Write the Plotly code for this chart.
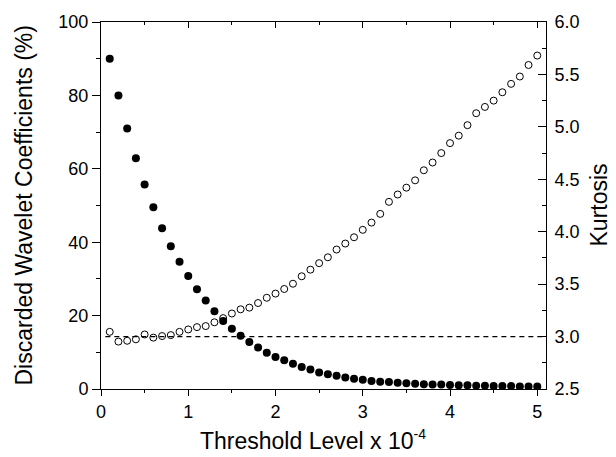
import plotly.graph_objects as go

threshold = [0.1, 0.2, 0.3, 0.4, 0.5, 0.6, 0.7, 0.8, 0.9, 1.0,
             1.1, 1.2, 1.3, 1.4, 1.5, 1.6, 1.7, 1.8, 1.9, 2.0,
             2.1, 2.2, 2.3, 2.4, 2.5, 2.6, 2.7, 2.8, 2.9, 3.0,
             3.1, 3.2, 3.3, 3.4, 3.5, 3.6, 3.7, 3.8, 3.9, 4.0,
             4.1, 4.2, 4.3, 4.4, 4.5, 4.6, 4.7, 4.8, 4.9, 5.0]

discarded = [90.0, 80.0, 71.0, 62.9, 55.7, 49.5, 43.8, 38.9, 34.7, 30.8,
             27.2, 24.1, 21.2, 18.5, 16.4, 14.5, 12.8, 11.3, 9.9, 8.7,
             7.8, 6.9, 6.0, 5.3, 4.5, 4.0, 3.6, 3.1, 2.8, 2.5,
             2.2, 2.0, 1.9, 1.7, 1.6, 1.4, 1.3, 1.2, 1.2, 1.1,
             1.0, 1.0, 0.9, 0.9, 0.8, 0.8, 0.8, 0.7, 0.7, 0.7]

kurtosis = [3.045, 2.952, 2.960, 2.974, 3.020, 2.990, 3.005, 3.014, 3.045, 3.068,
            3.090, 3.100, 3.136, 3.176, 3.220, 3.260, 3.276, 3.320, 3.370, 3.410,
            3.454, 3.504, 3.575, 3.638, 3.700, 3.756, 3.830, 3.887, 3.947, 4.018,
            4.087, 4.170, 4.285, 4.355, 4.420, 4.490, 4.586, 4.660, 4.750, 4.845,
            4.916, 5.016, 5.130, 5.190, 5.250, 5.330, 5.410, 5.480, 5.590, 5.680]

ref_x = [0.05, 5.1]
ref_kurtosis = [3.0, 3.0]

FONT = "Liberation Sans, Arial, sans-serif"
TICK_SIZE = 18
TITLE_SIZE = 23

fig = go.Figure()
fig.add_trace(go.Scatter(x=threshold, y=discarded, mode="markers",
                         marker=dict(symbol="circle", size=8, color="black"),
                         xaxis="x", yaxis="y", showlegend=False))
fig.add_trace(go.Scatter(x=ref_x, y=ref_kurtosis, mode="lines",
                         line=dict(color="black", width=1.2, dash="5px,4px"),
                         xaxis="x2", yaxis="y2", showlegend=False))
fig.add_trace(go.Scatter(x=threshold, y=kurtosis, mode="markers",
                         marker=dict(symbol="circle-open", size=7, color="black",
                                     line=dict(width=1, color="black")),
                         xaxis="x2", yaxis="y2", showlegend=False))

common_x = dict(range=[0, 5.1], showgrid=False, zeroline=False, showline=True,
                linecolor="black", linewidth=1, tickcolor="black", tickwidth=1,
                dtick=1, tick0=0)

fig.update_layout(
    width=616, height=457,
    margin=dict(l=101, r=70, t=15, b=68),
    paper_bgcolor="white", plot_bgcolor="white",
    font=dict(family=FONT, color="black", size=TICK_SIZE),
    xaxis=dict(**common_x, ticks="outside", ticklen=6,
               minor=dict(dtick=0.5, ticks="outside", ticklen=3, tickcolor="black"),
               tickfont=dict(size=TICK_SIZE)),
    xaxis2=dict(**common_x, overlaying="x", side="top", ticks="inside", ticklen=6,
                minor=dict(dtick=0.5, ticks="inside", ticklen=3, tickcolor="black"),
                showticklabels=False),
    yaxis=dict(range=[0, 100], dtick=20, tick0=0, showgrid=False, zeroline=False,
               showline=True, linecolor="black", linewidth=1,
               ticks="outside", ticklen=8, tickcolor="black",
               minor=dict(dtick=10, ticks="outside", ticklen=4, tickcolor="black"),
               tickfont=dict(size=TICK_SIZE)),
    yaxis2=dict(range=[2.5, 6.0], dtick=0.5, tick0=2.5, tickformat=".1f",
                overlaying="y", side="right", showgrid=False, zeroline=False,
                showline=True, linecolor="black", linewidth=1,
                ticks="inside", ticklen=8, tickcolor="black",
                minor=dict(dtick=0.25, ticks="inside", ticklen=4, tickcolor="black"),
                tickfont=dict(size=TICK_SIZE), ticklabelstandoff=4),
    annotations=[
        dict(text="Discarded Wavelet Coefficients (%)", xref="paper", yref="paper",
             x=0, y=0.5, xanchor="center", yanchor="middle", xshift=-78,
             textangle=-90, showarrow=False, font=dict(size=TITLE_SIZE)),
        dict(text="Kurtosis", xref="paper", yref="paper",
             x=1, y=0.5, xanchor="center", yanchor="middle", xshift=52,
             textangle=-90, showarrow=False, font=dict(size=TITLE_SIZE)),
        dict(text="Threshold Level x 10<sup><span style='font-size:14px'>-4</span></sup>",
             xref="paper", yref="paper", x=0.477, y=0, xanchor="center",
             yanchor="middle", yshift=-51, showarrow=False,
             font=dict(size=TITLE_SIZE)),
    ],
)

fig.write_html("out.html")
